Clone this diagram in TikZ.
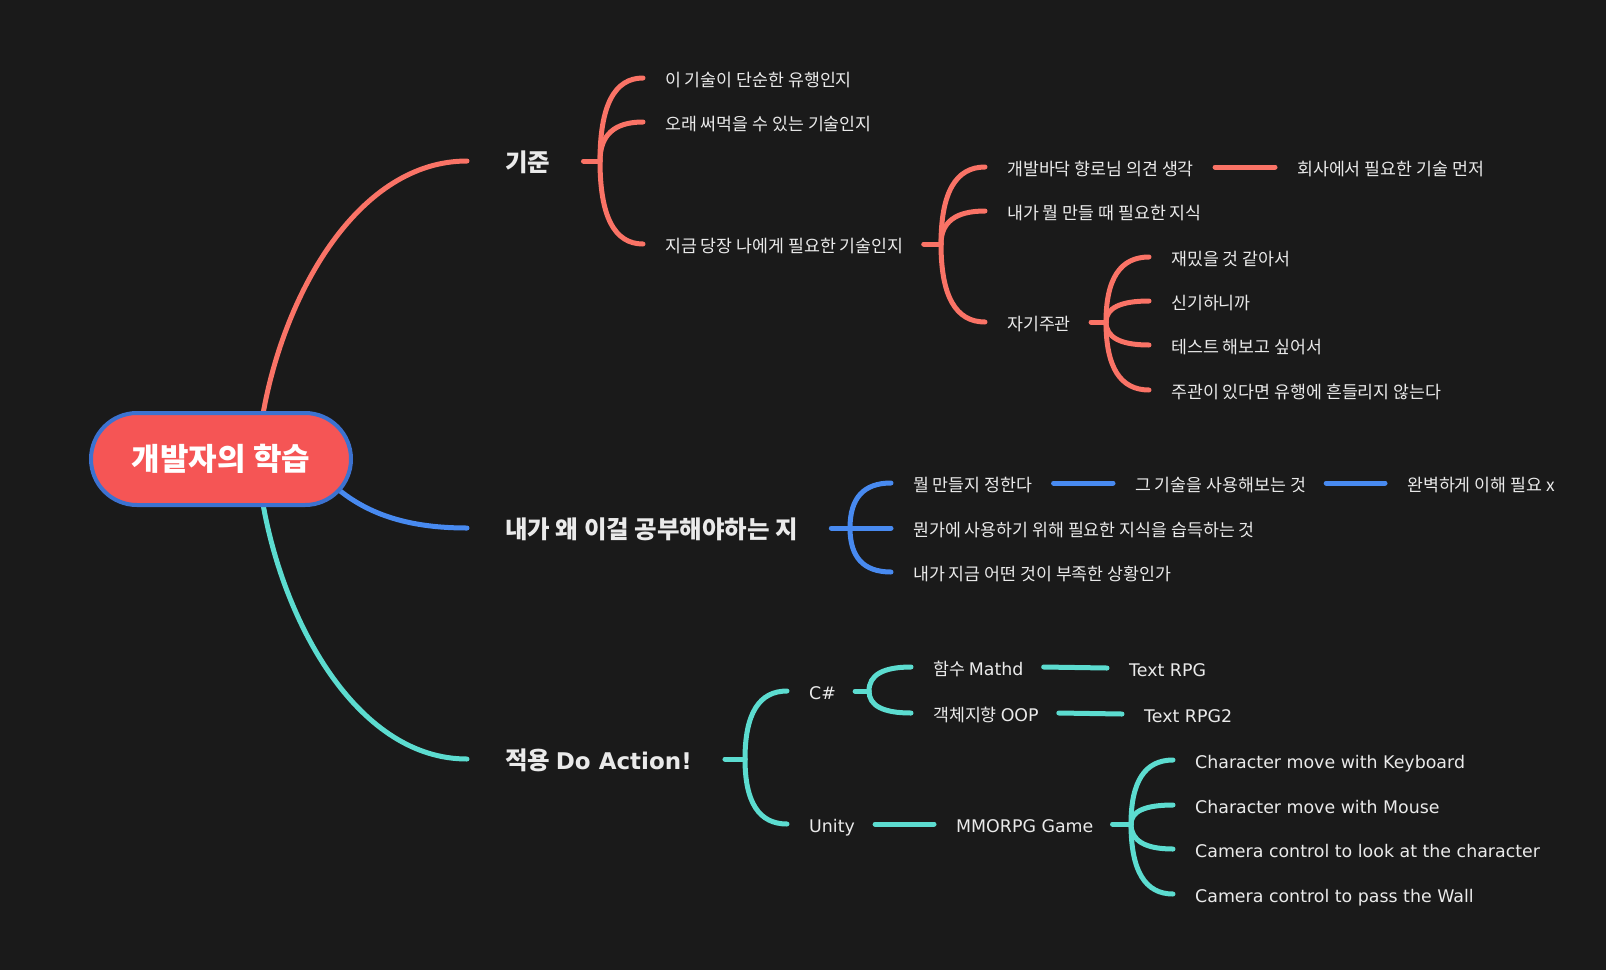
\documentclass[tikz,border=0pt]{standalone}
\usepackage{fontspec}
\setmainfont{Noto Sans CJK KR}
\newfontfamily\lat{DejaVu Sans}
\usetikzlibrary{calc,shapes.misc}
\definecolor{bgc}{RGB}{26,26,26}
\definecolor{salm}{RGB}{250,115,102}
\definecolor{blu}{RGB}{72,138,240}
\definecolor{tea}{RGB}{92,220,208}
\definecolor{cfill}{RGB}{245,85,85}
\definecolor{cborder}{RGB}{60,114,208}
\definecolor{txt}{RGB}{234,234,234}
\pgfdeclarelayer{back}
\pgfsetlayers{back,main}
\newcommand\lt[1]{{\lat\fontsize{17.4}{19}\selectfont #1}}
\newcommand\mkend[2][22]{\coordinate (e#2) at ($(#2.west)+(-#1,0)$);}
\newcommand\brc[3]{\draw[conn,#1] (#2) .. controls ($(#2)!0.667!(#2 |- #3)$) and ($(#3)!0.667!(#2 |- #3)$) .. (#3);}
\begin{document}
\begin{tikzpicture}[x=1pt,y=-1pt,
  leaf/.style={anchor=west,inner sep=0pt,text=txt,font=\fontsize{17.3}{19}\selectfont,text height=19.4pt,text depth=2.8pt},
  topic/.style={anchor=west,inner sep=0pt,text=txt,font=\fontsize{24.5}{28}\selectfont\bfseries,text height=24.5pt,text depth=3.9pt},
  central/.style={rounded rectangle,fill=cfill,draw=cborder,line width=4pt,minimum width=260pt,minimum height=92pt,inner sep=0pt,text=white,font=\fontsize{31}{34}\selectfont\bfseries},
  conn/.style={line width=5pt,line cap=round},
]
\useasboundingbox (0,0) rectangle (1606,970);
\begin{pgfonlayer}{back}
\fill[bgc] (0,0) rectangle (1606,970);
\end{pgfonlayer}

% central
\node[central] (C) at (221,459) {개발자의 학습};

% topics
\node[topic] (A) at (505,161) {기준};
\node[topic] (B) at (505,528) {내가 왜 이걸 공부해야하는 지};
\node[topic] (D) at (505,759) {적용 {\lat\fontsize{23}{26}\selectfont\bfseries Do Action!}};

% branch A leaves
\node[leaf] (a1) at (665,78) {이 기술이 단순한 유행인지};
\node[leaf] (a2) at (665,122) {오래 써먹을 수 있는 기술인지};
\node[leaf] (a3) at (665,244) {지금 당장 나에게 필요한 기술인지};
\node[leaf] (a31) at (1007,167) {개발바닥 향로님 의견 생각};
\node[leaf] (a311) at (1297,167) {회사에서 필요한 기술 먼저};
\node[leaf] (a32) at (1007,211) {내가 뭘 만들 때 필요한 지식};
\node[leaf] (a33) at (1007,322) {자기주관};
\node[leaf] (a331) at (1171,257) {재밌을 것 같아서};
\node[leaf] (a332) at (1171,301) {신기하니까};
\node[leaf] (a333) at (1171,345) {테스트 해보고 싶어서};
\node[leaf] (a334) at (1171,390) {주관이 있다면 유행에 흔들리지 않는다};

% branch B leaves
\node[leaf] (b1) at (913,483) {뭘 만들지 정한다};
\node[leaf] (b11) at (1135,483) {그 기술을 사용해보는 것};
\node[leaf] (b12) at (1407,483) {완벽하게 이해 필요 x};
\node[leaf] (b2) at (913,528) {뭔가에 사용하기 위해 필요한 지식을 습득하는 것};
\node[leaf] (b3) at (913,572) {내가 지금 어떤 것이 부족한 상황인가};

% branch D leaves
\node[leaf] (d1) at (809,691) {\lt{C\#}};
\node[leaf] (d2) at (809,824) {\lt{Unity}};
\node[leaf] (d11) at (933,667) {함수 \lt{Mathd}};
\node[leaf] (d12) at (933,713) {객체지향 \lt{OOP}};
\node[leaf] (d111) at (1129,668) {\lt{Text RPG}};
\node[leaf] (d121) at (1144,714) {\lt{Text RPG2}};
\node[leaf] (d21) at (956,824) {\lt{MMORPG Game}};
\node[leaf] (d211) at (1195,760) {\lt{Character move with Keyboard}};
\node[leaf] (d212) at (1195,805) {\lt{Character move with Mouse}};
\node[leaf] (d213) at (1195,849) {\lt{Camera control to look at the character}};
\node[leaf] (d214) at (1195,894) {\lt{Camera control to pass the Wall}};

% end coordinates
\mkend[38]{A}\mkend[38]{B}\mkend[38]{D}
\mkend{a1}\mkend{a2}\mkend{a3}\mkend{a31}\mkend{a311}\mkend{a32}\mkend{a33}
\mkend{a331}\mkend{a332}\mkend{a333}\mkend{a334}
\mkend{b1}\mkend{b11}\mkend{b12}\mkend{b2}\mkend{b3}
\mkend{d1}\mkend{d2}\mkend{d11}\mkend{d12}\mkend{d111}\mkend{d121}\mkend{d21}
\mkend{d211}\mkend{d212}\mkend{d213}\mkend{d214}

% junctions
\coordinate (jA) at (600,161);
\coordinate (ja3) at (941,244);
\coordinate (ja33) at (1106,322);
\coordinate (jB) at (850,528);
\coordinate (jD) at (745,759);
\coordinate (jd1) at (869,691);
\coordinate (jd21) at (1131,824);

\begin{pgfonlayer}{back}
% main branches
\draw[conn,salm] ($(C.north)+(42,3)$) .. controls (285,290) and (360,161) .. (eA);
\draw[conn,blu] ($(C.center)+(118,31)$) .. controls (370,515) and (410,528) .. (eB);
\draw[conn,tea] ($(C.south)+(42,-3)$) .. controls (285,628) and (360,759) .. (eD);

% branch A
\draw[conn,salm] ($(A.east)+(33,0)$) -- (jA);
\brc{salm}{jA}{ea1}
\brc{salm}{jA}{ea2}
\brc{salm}{jA}{ea3}
\draw[conn,salm] ($(a3.east)+(20,0)$) -- (ja3);
\brc{salm}{ja3}{ea31}
\brc{salm}{ja3}{ea32}
\brc{salm}{ja3}{ea33}
\draw[conn,salm] ($(a31.east)+(21,0)$) -- (ea311);
\draw[conn,salm] ($(a33.east)+(20,0)$) -- (ja33);
\brc{salm}{ja33}{ea331}
\brc{salm}{ja33}{ea332}
\brc{salm}{ja33}{ea333}
\brc{salm}{ja33}{ea334}

% branch B
\draw[conn,blu] ($(B.east)+(33,0)$) -- (jB);
\brc{blu}{jB}{eb1}
\draw[conn,blu] (jB) -- (eb2);
\brc{blu}{jB}{eb3}
\draw[conn,blu] ($(b1.east)+(21,0)$) -- (eb11);
\draw[conn,blu] ($(b11.east)+(20,0)$) -- (eb12);

% branch D
\draw[conn,tea] ($(D.east)+(33,0)$) -- (jD);
\brc{tea}{jD}{ed1}
\brc{tea}{jD}{ed2}
\draw[conn,tea] ($(d1.east)+(19,0)$) -- (jd1);
\brc{tea}{jd1}{ed11}
\brc{tea}{jd1}{ed12}
\draw[conn,tea] ($(d11.east)+(20,0)$) -- (ed111);
\draw[conn,tea] ($(d12.east)+(20,0)$) -- (ed121);
\draw[conn,tea] ($(d2.east)+(20,0)$) -- (ed21);
\draw[conn,tea] ($(d21.east)+(19,0)$) -- (jd21);
\brc{tea}{jd21}{ed211}
\brc{tea}{jd21}{ed212}
\brc{tea}{jd21}{ed213}
\brc{tea}{jd21}{ed214}
\end{pgfonlayer}
\end{tikzpicture}
\end{document}
